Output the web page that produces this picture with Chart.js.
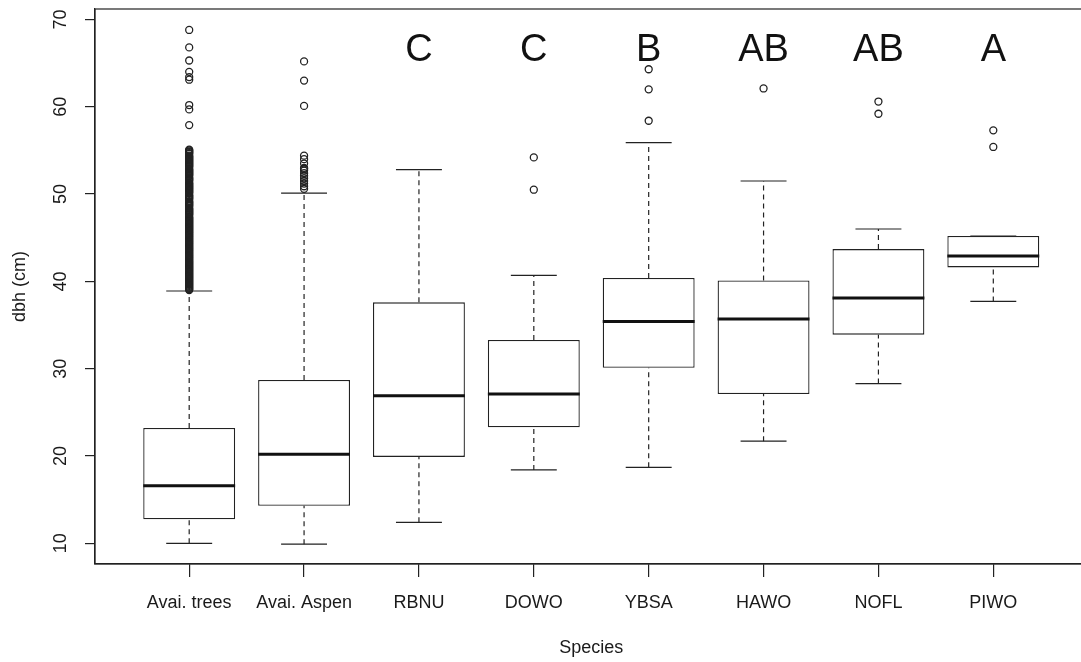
<!DOCTYPE html>
<html>
<head>
<meta charset="utf-8">
<script src="https://cdn.jsdelivr.net/npm/chart.js@4.4.0/dist/chart.umd.min.js"></script>
<style>
  html, body { margin: 0; padding: 0; background: #fff; overflow: hidden; }
  #wrap { width: 1081px; height: 662px; overflow: hidden; }
</style>
</head>
<body>
<div id="wrap"><canvas id="myChart" width="1100" height="662"></canvas></div>
<script>
const categories = ['Avai. trees', 'Avai. Aspen', 'RBNU', 'DOWO', 'YBSA', 'HAWO', 'NOFL', 'PIWO'];

const whiskerLow  = [10.0, 9.9, 12.4, 18.4, 18.7, 21.7, 28.3, 37.7];
const q1          = [12.75, 14.3, 19.9, 23.3, 30.1, 27.1, 33.9, 41.6];
const medians     = [16.6, 20.2, 26.9, 27.1, 35.4, 35.7, 38.1, 42.9];
const q3          = [23.2, 28.7, 37.6, 33.3, 40.4, 40.1, 43.7, 45.2];
const whiskerHigh = [38.9, 50.1, 52.8, 40.7, 55.9, 51.5, 46.0, 45.2];

const outliers = [
    [39.0, 39.1, 39.2, 39.3, 39.4, 39.5, 39.6, 39.7, 39.8, 39.9,
     40.0, 40.1, 40.2, 40.3, 40.4, 40.5, 40.6, 40.7, 40.8, 40.9,
     41.0, 41.1, 41.2, 41.3, 41.4, 41.5, 41.6, 41.7, 41.8, 41.9,
     42.0, 42.1, 42.2, 42.3, 42.4, 42.5, 42.6, 42.7, 42.8, 42.9,
     43.0, 43.1, 43.2, 43.3, 43.4, 43.5, 43.6, 43.7, 43.8, 43.9,
     44.0, 44.1, 44.2, 44.3, 44.4, 44.5, 44.6, 44.7, 44.8, 44.9,
     45.0, 45.1, 45.2, 45.3, 45.4, 45.5, 45.6, 45.7, 45.8, 45.9,
     46.0, 46.1, 46.2, 46.3, 46.4, 46.5, 46.6, 46.7, 46.8, 46.9,
     47.0, 47.1, 47.2, 47.3, 47.4, 47.6, 47.7, 47.8, 47.9,
     48.0, 48.1, 48.2, 48.3, 48.4, 48.6, 48.7, 48.8, 48.9,
     49.0, 49.1, 49.2, 49.4, 49.5, 49.6, 49.7, 49.8, 49.9,
     50.1, 50.2, 50.3, 50.4, 50.5, 50.6, 50.7, 50.8, 50.9,
     51.0, 51.1, 51.2, 51.3, 51.5, 51.6, 51.7, 51.8, 51.9,
     52.1, 52.2, 52.3, 52.4, 52.5, 52.6, 52.7, 52.8, 52.9,
     53.1, 53.2, 53.3, 53.4, 53.5, 53.6, 53.7, 53.8, 53.9,
     54.0, 54.1, 54.2, 54.3, 54.4, 54.6, 54.7, 54.8, 54.9,
     55.0, 55.1, 57.9, 59.7, 60.2, 63.1, 63.4, 64.0, 65.3, 66.8, 68.8],
    [50.6, 50.9, 51.2, 51.5, 51.8, 52.1, 52.4, 52.7, 52.9, 53.0, 53.5, 54.0, 54.4, 60.1, 63.0, 65.2],
    [],
    [50.5, 54.2],
    [58.4, 62.0, 64.3],
    [62.1],
    [59.2, 60.6],
    [55.4, 57.3]
];

const letters = ['', '', 'C', 'C', 'B', 'AB', 'AB', 'A'];
const letterLevel = 65.2;
const yTicks = [10, 20, 30, 40, 50, 60, 70];

const ink = '#222';

// build the pieces of each box plot from the arrays above
const boxData = categories.map((c, i) => ({ x: i + 1, y: [q1[i], q3[i]] }));
const medianData = [];
const whiskerData = [];
const capData = [];
const outlierData = [];
categories.forEach((c, i) => {
    const x = i + 1;
    medianData.push({ x: x - 0.4, y: medians[i] }, { x: x + 0.4, y: medians[i] }, { x: x, y: null });
    whiskerData.push({ x: x, y: q3[i] }, { x: x, y: whiskerHigh[i] }, { x: x, y: null });
    whiskerData.push({ x: x, y: whiskerLow[i] }, { x: x, y: q1[i] }, { x: x, y: null });
    capData.push({ x: x - 0.2, y: whiskerHigh[i] }, { x: x + 0.2, y: whiskerHigh[i] }, { x: x, y: null });
    capData.push({ x: x - 0.2, y: whiskerLow[i] }, { x: x + 0.2, y: whiskerLow[i] }, { x: x, y: null });
    outliers[i].forEach(v => outlierData.push({ x: x, y: v }));
});

const framePlugin = {
    id: 'frame',
    beforeDatasetsDraw(chart) {
        const { ctx, chartArea } = chart;
        ctx.save();
        ctx.strokeStyle = ink;
        ctx.lineWidth = 1.2;
        ctx.strokeRect(chartArea.left, chartArea.top, chartArea.right - chartArea.left, chartArea.bottom - chartArea.top);
        ctx.restore();
    }
};

const letterPlugin = {
    id: 'letters',
    afterDatasetsDraw(chart) {
        const { ctx } = chart;
        const xs = chart.scales.x;
        const ys = chart.scales.y;
        ctx.save();
        ctx.fillStyle = '#111';
        ctx.font = '38px "Liberation Sans", Arial, sans-serif';
        ctx.textAlign = 'center';
        ctx.textBaseline = 'alphabetic';
        letters.forEach((t, i) => {
            if (t) ctx.fillText(t, xs.getPixelForValue(i + 1), ys.getPixelForValue(letterLevel));
        });
        ctx.restore();
    }
};

Chart.defaults.font.family = '"Liberation Sans", Arial, sans-serif';
Chart.defaults.color = '#1a1a1a';

const ctx = document.getElementById('myChart').getContext('2d');

const myChart = new Chart(ctx, {
    type: 'bar',
    data: {
        datasets: [
            {
                type: 'scatter',
                data: outlierData,
                pointStyle: 'circle',
                pointRadius: 3.5,
                backgroundColor: 'rgba(0,0,0,0)',
                borderColor: ink,
                borderWidth: 1.3,
                order: 0
            },
            {
                type: 'line',
                data: medianData,
                borderColor: '#111',
                borderWidth: 3,
                pointRadius: 0,
                spanGaps: false,
                order: 1
            },
            {
                type: 'line',
                data: capData,
                borderColor: ink,
                borderWidth: 1.2,
                pointRadius: 0,
                spanGaps: false,
                order: 2
            },
            {
                type: 'line',
                data: whiskerData,
                borderColor: ink,
                borderWidth: 1.2,
                borderDash: [5, 4],
                pointRadius: 0,
                spanGaps: false,
                order: 3
            },
            {
                type: 'bar',
                data: boxData,
                backgroundColor: '#fff',
                borderColor: ink,
                borderWidth: 1.3,
                borderSkipped: false,
                barPercentage: 0.8,
                categoryPercentage: 1,
                order: 4
            }
        ]
    },
    options: {
        responsive: false,
        animation: false,
        layout: {
            padding: { top: 9, right: 12.5, left: 0, bottom: 0 }
        },
        plugins: {
            legend: { display: false },
            tooltip: { enabled: false }
        },
        scales: {
            x: {
                type: 'linear',
                min: 0.18,
                max: 8.82,
                offset: false,
                afterBuildTicks: (scale) => {
                    scale.ticks = categories.map((c, i) => ({ value: i + 1 }));
                },
                afterFit: (scale) => {
                    scale.height = 98;
                    scale.paddingLeft = 0;
                    scale.paddingRight = 0;
                },
                ticks: {
                    callback: (v) => categories[v - 1],
                    autoSkip: false,
                    maxRotation: 0,
                    padding: 15,
                    font: { size: 18 },
                    color: '#1a1a1a'
                },
                grid: {
                    offset: false,
                    drawOnChartArea: false,
                    tickLength: 13,
                    color: ink,
                    lineWidth: 1.2
                },
                border: { display: true, color: ink, width: 1.2 },
                title: {
                    display: true,
                    text: 'Species',
                    font: { size: 18 },
                    color: '#1a1a1a',
                    padding: { top: 0, bottom: 3 }
                }
            },
            y: {
                type: 'linear',
                min: 7.63,
                max: 71.2,
                afterBuildTicks: (scale) => {
                    scale.ticks = yTicks.map(v => ({ value: v }));
                },
                afterFit: (scale) => {
                    scale.width = 95;
                    scale.paddingTop = 0;
                    scale.paddingBottom = 0;
                },
                ticks: {
                    minRotation: 90,
                    maxRotation: 90,
                    crossAlign: 'center',
                    padding: 13.5,
                    font: { size: 18 },
                    color: '#1a1a1a'
                },
                grid: {
                    drawOnChartArea: false,
                    tickLength: 10,
                    color: ink,
                    lineWidth: 1.2
                },
                border: { display: true, color: ink, width: 1.2 },
                title: {
                    display: true,
                    text: 'dbh (cm)',
                    font: { size: 18 },
                    color: '#1a1a1a',
                    padding: { top: 9, bottom: 0 }
                }
            }
        }
    },
    plugins: [framePlugin, letterPlugin]
});
</script>
</body>
</html>
